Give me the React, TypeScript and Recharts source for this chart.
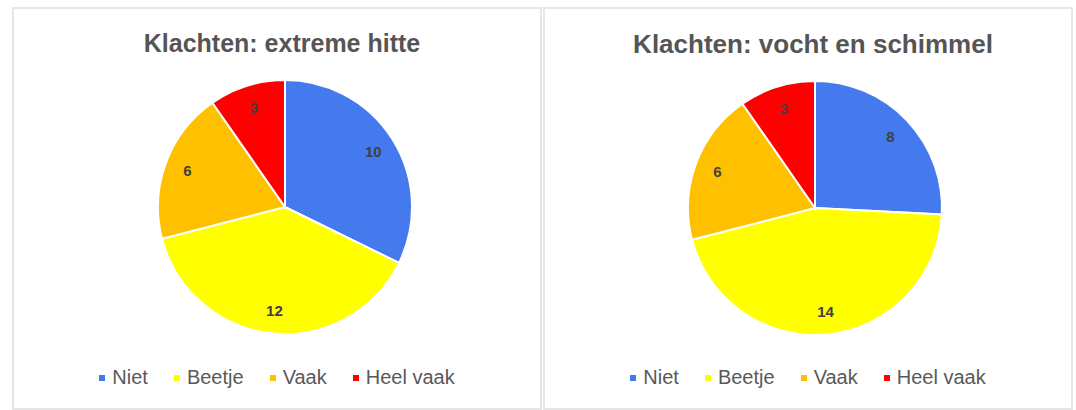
import React from 'react';
import { PieChart, Pie, Cell, Legend } from 'recharts';

const categories = ['Niet', 'Beetje', 'Vaak', 'Heel vaak'];
const hitteValues = [10, 12, 6, 3];
const schimmelValues = [8, 14, 6, 3];
const COLORS = ['#4579EE', '#FFFF00', '#FFC000', '#FF0000'];

const FONT = '"Liberation Sans", Arial, sans-serif';
const RAD = Math.PI / 180;

const renderLabel = (props: any) => {
    const { cx, cy, midAngle, outerRadius, value } = props;
    const r = outerRadius * 0.82;
    const x = cx + r * Math.cos(-midAngle * RAD);
    const y = cy + r * Math.sin(-midAngle * RAD);
    return (
        <text
            x={x}
            y={y}
            fill="#404040"
            fontSize={15}
            fontWeight="bold"
            fontFamily={FONT}
            textAnchor="middle"
            dominantBaseline="central"
        >
            {value}
        </text>
    );
};

const LegendContent = () => (
    <div style={{ display: 'flex', justifyContent: 'center', gap: 26, fontFamily: FONT, fontSize: 20, color: '#595959' }}>
        {categories.map((c, i) => (
            <div key={c} style={{ display: 'flex', alignItems: 'center', gap: 7 }}>
                <span style={{ width: 6, height: 6, background: COLORS[i], display: 'inline-block' }} />
                <span>{c}</span>
            </div>
        ))}
    </div>
);

type PanelProps = {
    title: string;
    values: number[];
    left: number;
    cx: number;
    cy: number;
    titleSize: number;
};

const PiePanel = ({ title, values, left, cx, cy, titleSize }: PanelProps) => {
    const data = categories.map((name, i) => ({ name, value: values[i] }));
    return (
        <div
            style={{
                position: 'absolute',
                left,
                top: 7,
                width: 526,
                height: 399,
                border: '2px solid #e6e6e6',
                background: '#fff',
            }}
        >
            <div
                style={{
                    position: 'absolute',
                    top: 20,
                    left: 0,
                    width: 526,
                    textAlign: 'center',
                    fontFamily: FONT,
                    fontSize: titleSize,
                    fontWeight: 'bold',
                    color: '#555555',
                    paddingLeft: 10,
                    boxSizing: 'border-box',
                }}
            >
                {title}
            </div>
            <PieChart width={526} height={399}>
                <Pie
                    data={data}
                    dataKey="value"
                    nameKey="name"
                    cx={cx}
                    cy={cy}
                    outerRadius={127}
                    startAngle={90}
                    endAngle={-270}
                    stroke="#ffffff"
                    strokeWidth={2}
                    label={renderLabel}
                    labelLine={false}
                    isAnimationActive={false}
                >
                    {data.map((d, i) => (
                        <Cell key={d.name} fill={COLORS[i]} />
                    ))}
                </Pie>
                <Legend content={<LegendContent />} wrapperStyle={{ top: 357, left: 0, width: 526 }} />
            </PieChart>
        </div>
    );
};

export default function App() {
    return (
        <div style={{ position: 'absolute', left: 0, top: 0, width: 1076, height: 410, background: '#fff' }}>
            <PiePanel title="Klachten: extreme hitte" values={hitteValues} left={12} cx={266} cy={193} titleSize={25} />
            <PiePanel title="Klachten: vocht en schimmel" values={schimmelValues} left={543} cx={265} cy={194} titleSize={26} />
        </div>
    );
}
